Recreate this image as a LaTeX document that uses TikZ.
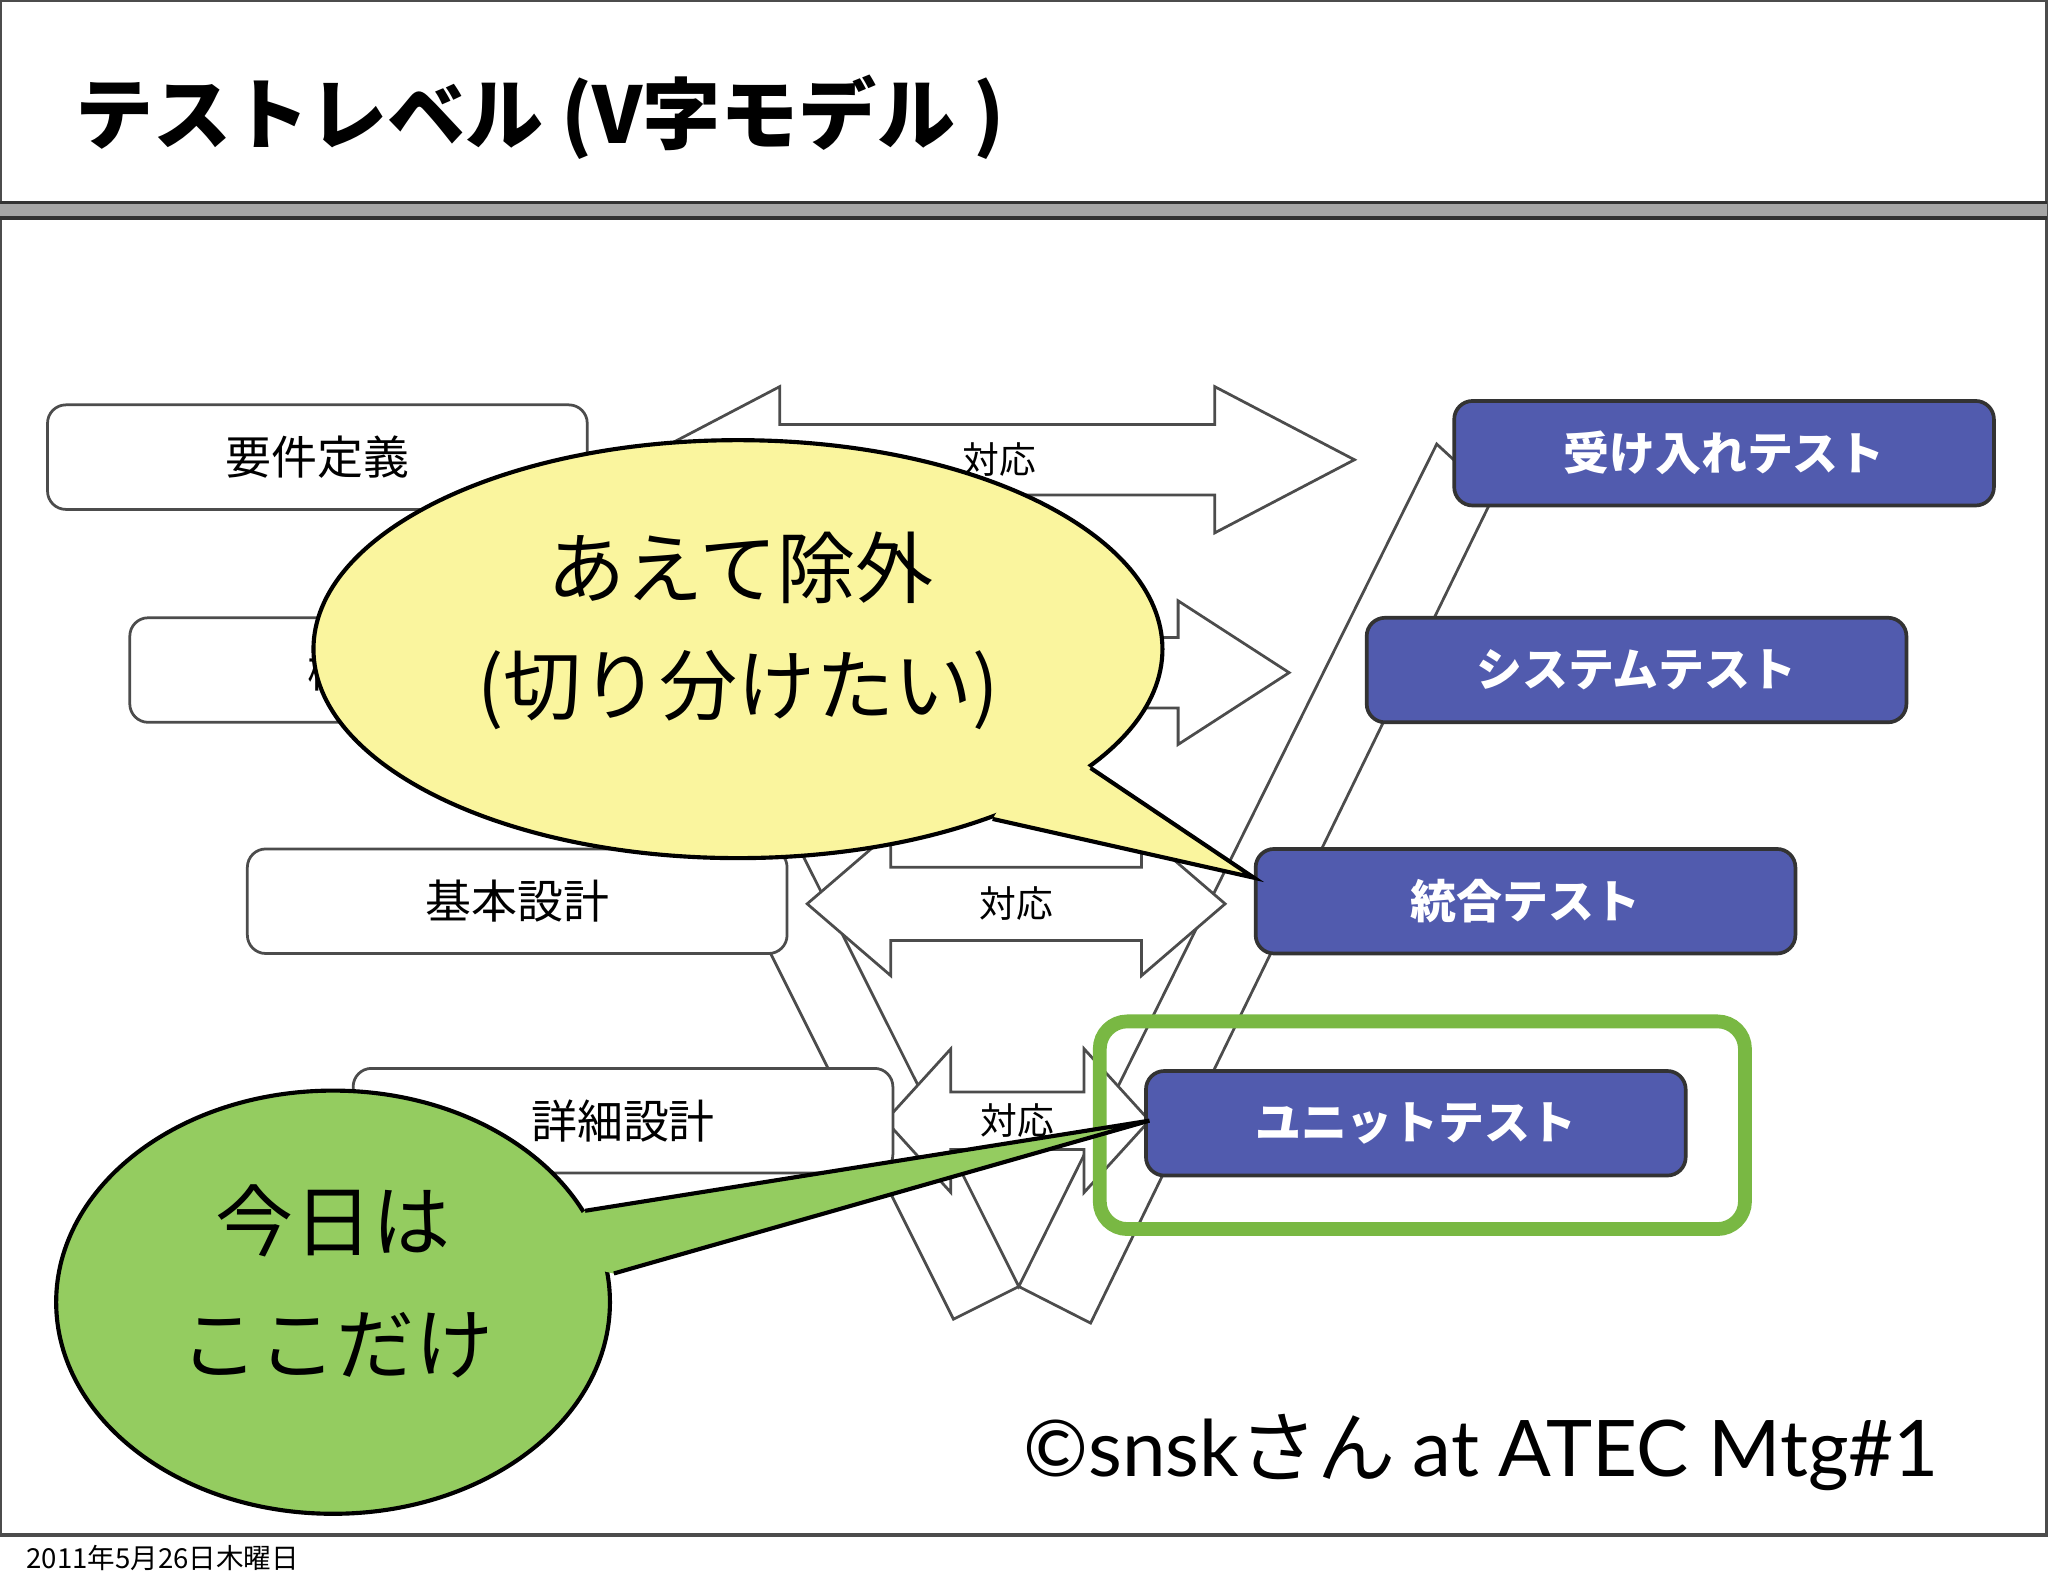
\documentclass[tikz,border=0pt]{standalone}
\usepackage{fontspec}
\setmainfont{Noto Sans CJK JP}
\newfontfamily\latfont{Lato}
\usetikzlibrary{shapes.geometric}
\definecolor{boxblue}{HTML}{515BAE}
\definecolor{hiliteg}{HTML}{79B843}
\definecolor{bubyel}{HTML}{FAF59E}
\definecolor{bubgrn}{HTML}{94CC60}
\tikzset{
  docbox/.style={draw=black!70,fill=white,rounded corners=4pt,line width=0.6pt,minimum width=4.13cm,minimum height=0.8cm,font=\fontsize{10}{12}\selectfont},
  testbox/.style={draw=black!80,fill=boxblue,text=white,rounded corners=4pt,line width=0.8pt,minimum width=4.13cm,minimum height=0.8cm,font=\bfseries\fontsize{10}{12}\selectfont},
  dblarrow/.style={draw=black!70,fill=white,line width=0.6pt},
  vline/.style={draw=black!70,line width=0.6pt},
  bubtext/.style={font=\fontsize{17}{20}\selectfont}
}
% double arrow: left tip, right tip, centre y, head length, shaft half, head half
\newcommand{\dArrow}[6]{%
  \path[dblarrow] (#1,#3) -- (#1+#4,#3-#6) -- (#1+#4,#3-#5) -- (#2-#4,#3-#5) -- (#2-#4,#3-#6)
    -- (#2,#3) -- (#2-#4,#3+#6) -- (#2-#4,#3+#5) -- (#1+#4,#3+#5) -- (#1+#4,#3+#6) -- cycle;}
\begin{document}
\begin{tikzpicture}[x=0.01cm,y=-0.01cm]
\useasboundingbox (0,0) rectangle (1568,1215);
% slide frame and title
\draw[black!70,line width=0.8pt] (0,0) rectangle (1567,1175);
\fill[black!35] (0,155) rectangle (1567,167);
\draw[black!80,line width=0.8pt] (0,155) -- (1567,155) (0,167) -- (1567,167);
\node[anchor=west,font=\bfseries\fontsize{17}{20}\selectfont] (title) at (45,90) {テストレベル (V字モデル )};
% V shape
\draw[vline] (420,390) -- (730,1010) -- (780,985) -- (835,1013) -- (1140,387);
\draw[vline] (482,390) -- (780,985) -- (1100,340) -- (1113,352);
% correspondence arrows
\dArrow{490}{1037}{352}{107}{27}{56}
\dArrow{440}{987}{515}{85}{27}{55}
\dArrow{618}{938}{692}{64}{28}{55}
\dArrow{678}{880}{858}{50}{22}{55}
\node[font=\fontsize{8}{10}\selectfont] (c1) at (765,352) {対応};
\node[font=\fontsize{8}{10}\selectfont] (c3) at (778,692) {対応};
\node[font=\fontsize{8}{10}\selectfont] (c4) at (779,858) {対応};
% design side
\node[docbox] (req) at (243,350) {要件定義};
\node[docbox] (func) at (306,513) {機能設計};
\node[docbox] (basic) at (396,690) {基本設計};
\node[docbox] (detail) at (477,858) {詳細設計};
% test side
\node[testbox] (acc) at (1320,347) {受け入れテスト};
\node[testbox] (sys) at (1253,513) {システムテスト};
\node[testbox] (integ) at (1168,690) {統合テスト};
\node[testbox] (unit) at (1084,860) {ユニットテスト};
\draw[hiliteg,line width=3pt,rounded corners=6pt] (842,782) rectangle (1336,941);
% yellow bubble
\coordinate (ytip) at (960,672);
\path[fill=bubyel] (835,588) -- (ytip) -- (760,627) -- (800,560) -- cycle;
\draw[fill=bubyel,line width=0.9pt] (565,497) ellipse (325 and 160);
\path[fill=bubyel] (835,588) -- (ytip) -- (760,627) -- (800,560) -- cycle;
\draw[line width=0.9pt] (835,588) -- (ytip) -- (760,627);
\node[bubtext] (y1) at (567,435) {あえて除外};
\node[bubtext] (y2) at (565,528) {(切り分けたい)};
% green bubble
\coordinate (gtip) at (880,858);
\path[fill=bubgrn] (448,927) -- (gtip) -- (470,975) -- (400,960) -- cycle;
\draw[fill=bubgrn,line width=0.9pt] (255,997) ellipse (212 and 162);
\path[fill=bubgrn] (448,927) -- (gtip) -- (470,975) -- (400,960) -- cycle;
\draw[line width=0.9pt] (448,927) -- (gtip) -- (470,975);
\node[bubtext] (g1) at (255,935) {今日は};
\node[bubtext] (g2) at (258,1030) {ここだけ};
% credit and date
\node[anchor=east,font=\fontsize{17}{20}\selectfont] (credit) at (1497,1112) {{\latfont ©snsk}さん {\latfont at ATEC Mtg\#1}};
\node[anchor=west,font=\fontsize{6}{7}\selectfont] (date) at (8,1193) {2011年5月26日木曜日};
\end{tikzpicture}
\end{document}
